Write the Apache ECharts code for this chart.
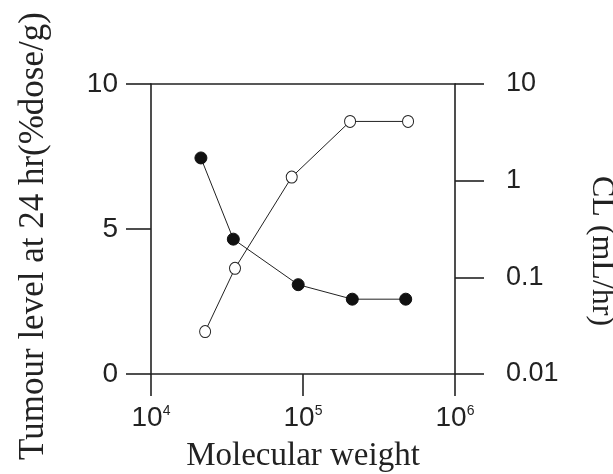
<!DOCTYPE html>
<html>
<head>
<meta charset="utf-8">
<script src="https://cdn.jsdelivr.net/npm/echarts@6/dist/echarts.min.js"></script>
<style>
  html, body { margin: 0; padding: 0; background: #fff; }
  #chart { width: 613px; height: 474px; }
</style>
</head>
<body>
<div id="chart"></div>
<script>
// tumour level (filled circles, left axis)
var mwTumour = [21300, 34800, 93000, 211000, 474000];
var tumourLevel = [7.45, 4.65, 3.08, 2.58, 2.58];

// clearance (open circles, right log axis)
var mwClearance = [22700, 35700, 84300, 204000, 491000];
var clearance = [0.0275, 0.124, 1.09, 4.1, 4.1];

var leftTicks = [0, 5, 10];
var rightTicks = [0.01, 0.1, 1, 10];

var ink = '#222';

function pairs(xs, ys) {
  var out = [];
  for (var i = 0; i < xs.length; i++) out.push([xs[i], ys[i]]);
  return out;
}

var chart = echarts.init(document.getElementById('chart'));

var option = {
  animation: false,
  backgroundColor: '#fff',
  grid: { left: 151, right: 158, top: 84, bottom: 100, outerBoundsMode: 'none', containLabel: false },
  xAxis: [
    {
      type: 'log',
      logBase: 10,
      min: 10000,
      max: 1000000,
      position: 'bottom',
      name: 'Molecular weight',
      nameLocation: 'middle',
      nameGap: 66,
      nameTextStyle: { fontFamily: 'Liberation Serif', fontSize: 33, color: ink },
      axisLine: { lineStyle: { color: ink, width: 1.6 } },
      axisTick: { length: 22, lineStyle: { color: ink, width: 1.6 } },
      minorTick: { show: false },
      splitLine: { show: false },
      axisLabel: {
        margin: 30,
        formatter: function (v) {
          var e = Math.round(Math.log(v) / Math.LN10);
          return '{a|10}{b|' + e + '}';
        },
        rich: {
          a: { fontFamily: 'Liberation Sans', fontSize: 28, color: ink },
          b: { fontFamily: 'Liberation Sans', fontSize: 14, color: ink, verticalAlign: 'top', padding: [0, 0, 14, 0] }
        }
      }
    },
    {
      // top border of the frame
      type: 'log',
      logBase: 10,
      min: 10000,
      max: 1000000,
      position: 'top',
      axisLine: { lineStyle: { color: ink, width: 1.6 } },
      axisTick: { show: false },
      axisLabel: { show: false },
      splitLine: { show: false }
    }
  ],
  yAxis: [
    {
      type: 'value',
      min: leftTicks[0],
      max: leftTicks[leftTicks.length - 1],
      interval: 5,
      position: 'left',
      name: 'Tumour level at 24 hr(%dose/g)',
      nameLocation: 'middle',
      nameGap: 100,
      nameTextStyle: { fontFamily: 'Liberation Serif', fontSize: 35, color: ink, padding: [0, 14, 0, 0] },
      axisLine: { show: true, lineStyle: { color: ink, width: 1.6 } },
      axisTick: { show: true, length: 25, lineStyle: { color: ink, width: 1.6 } },
      splitLine: { show: false },
      axisLabel: { margin: 33, fontFamily: 'Liberation Sans', fontSize: 28, color: ink }
    },
    {
      type: 'log',
      logBase: 10,
      min: rightTicks[0],
      max: rightTicks[rightTicks.length - 1],
      position: 'right',
      name: 'CL (mL/hr)',
      nameLocation: 'middle',
      nameRotate: -90,
      nameGap: 130,
      nameTextStyle: { fontFamily: 'Liberation Serif', fontSize: 32, color: ink, padding: [0, 0, 0, 44] },
      axisLine: { show: true, lineStyle: { color: ink, width: 1.6 } },
      axisTick: { show: true, length: 29, lineStyle: { color: ink, width: 1.6 } },
      minorTick: { show: false },
      splitLine: { show: false },
      axisLabel: {
        margin: 51,
        fontFamily: 'Liberation Sans',
        fontSize: 27,
        color: ink,
        formatter: function (v) { return String(Number(v.toPrecision(3))); }
      }
    }
  ],
  series: [
    {
      name: 'Tumour level',
      type: 'line',
      xAxisIndex: 0,
      yAxisIndex: 0,
      data: pairs(mwTumour, tumourLevel),
      symbol: 'circle',
      symbolSize: [12, 12],
      lineStyle: { color: ink, width: 1 },
      itemStyle: { color: '#111', borderColor: '#111', borderWidth: 1 },
      z: 3
    },
    {
      name: 'CL',
      type: 'line',
      xAxisIndex: 0,
      yAxisIndex: 1,
      data: pairs(mwClearance, clearance),
      symbol: 'circle',
      symbolSize: [11, 12],
      lineStyle: { color: ink, width: 1 },
      itemStyle: { color: '#fff', borderColor: ink, borderWidth: 1 },
      z: 4
    }
  ]
};

chart.setOption(option);
</script>
</body>
</html>
